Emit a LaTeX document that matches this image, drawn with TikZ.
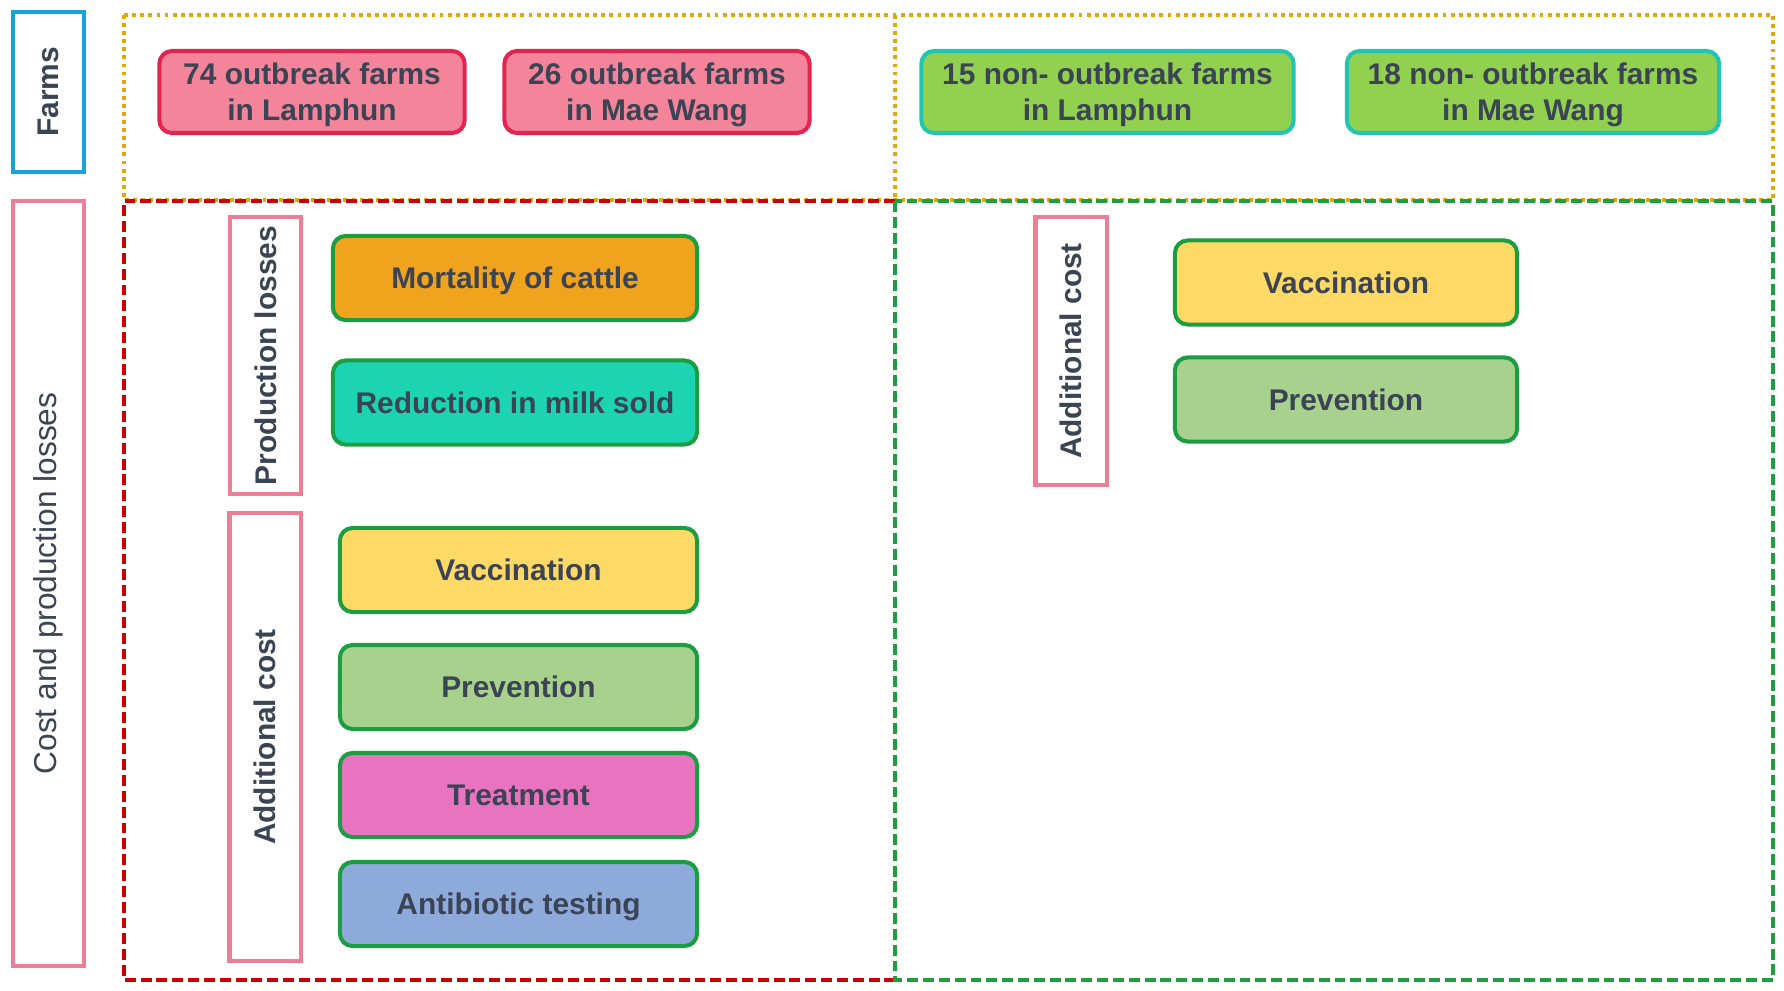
\documentclass[tikz,border=0pt]{standalone}
\usepackage{fontspec}
\setmainfont{Liberation Sans}

\definecolor{txtgray}{HTML}{3A4454}
\definecolor{frmblue}{HTML}{18A2DC}
\definecolor{lblpink}{HTML}{EE7E96}
\definecolor{obborder}{HTML}{E3244F}
\definecolor{obfill}{HTML}{F4849A}
\definecolor{nobborder}{HTML}{22C4B2}
\definecolor{nobfill}{HTML}{92D050}
\definecolor{itemgreen}{HTML}{1A9E41}
\definecolor{mortfill}{HTML}{F0A31C}
\definecolor{milkfill}{HTML}{1CD3B2}
\definecolor{vaccfill}{HTML}{FFD966}
\definecolor{prevfill}{HTML}{A9D18E}
\definecolor{treatfill}{HTML}{E874BF}
\definecolor{abfill}{HTML}{8EAADB}
\definecolor{dotyellow}{HTML}{E6A800}
\definecolor{dashred}{HTML}{CC0000}
\definecolor{dashgreen}{HTML}{1E9E3E}

\tikzset{
  box/.style={draw, rounded corners=3.6pt, line width=1.15pt, text=txtgray,
    font=\fontsize{8.5}{10.3}\selectfont\bfseries, align=center, inner sep=0pt,
    text depth=0pt},
  farmbox/.style={box, minimum height=0.82cm},
  outbreak/.style={farmbox, draw=obborder, fill=obfill, minimum width=3.05cm},
  nonoutbreak/.style={farmbox, draw=nobborder, fill=nobfill, minimum width=3.72cm},
  item/.style={box, draw=itemgreen, minimum height=0.84cm},
  sidelabel/.style={draw=lblpink, line width=1.15pt, rotate=90, text=txtgray,
    font=\fontsize{8.5}{9.7}\selectfont\bfseries, inner sep=0pt, minimum height=0.71cm},
  dotzone/.style={line width=1.1pt, dotyellow, dash pattern=on 1.1pt off 1.2pt},
  dashzone/.style={line width=1.15pt, dash pattern=on 3.1pt off 1.4pt}
}

\begin{document}
\begin{tikzpicture}[x=0.01cm, y=-0.01cm]
\useasboundingbox (0,0) rectangle (1784,991);

% zones
\draw [dotzone] (124,15) rectangle (1773,200);
\draw [dotzone] (895,15) -- (895,200);
\draw [dashzone, dashred] (895,201) -- (124,201) -- (124,980) -- (895,980);
\draw [dashzone, dashgreen] (895,201) rectangle (1773,980);

% row labels
\node [sidelabel, draw=frmblue, minimum width=1.60cm] (farms) at (48.5,92) {Farms};
\node [sidelabel, minimum width=7.65cm, font=\fontsize{9}{10}\selectfont] (costlab) at (48.5,583.5) {Cost and production losses};

% farms
\node [outbreak] (obLam) at (312,92) {74 outbreak farms\\in Lamphun};
\node [outbreak] (obMae) at (657,92) {26 outbreak farms\\in Mae Wang};
\node [nonoutbreak] (nobLam) at (1107.5,92) {15 non- outbreak farms\\in Lamphun};
\node [nonoutbreak] (nobMae) at (1533,92) {18 non- outbreak farms\\in Mae Wang};

% outbreak farms
\node [sidelabel, minimum width=2.77cm] (prodlos) at (265.5,355.5) {Production losses};
\node [sidelabel, minimum width=4.48cm] (addcostL) at (265,737) {Additional cost};

\node [item, fill=mortfill, minimum width=3.64cm] (mort) at (515,278) {Mortality of cattle};
\node [item, fill=milkfill, minimum width=3.64cm] (milk) at (515,402.5) {Reduction in milk sold};

\node [item, fill=vaccfill, minimum width=3.57cm] (vaccL) at (518.5,570) {Vaccination};
\node [item, fill=prevfill, minimum width=3.57cm] (prevL) at (518.5,687) {Prevention};
\node [item, fill=treatfill, minimum width=3.57cm] (treat) at (518.5,795) {Treatment};
\node [item, fill=abfill, minimum width=3.57cm] (abtest) at (518.5,904) {Antibiotic testing};

% non-outbreak farms
\node [sidelabel, minimum width=2.68cm] (addcostR) at (1071,351) {Additional cost};

\node [item, fill=vaccfill, minimum width=3.42cm] (vaccR) at (1346,282.5) {Vaccination};
\node [item, fill=prevfill, minimum width=3.42cm] (prevR) at (1346,399.5) {Prevention};

\end{tikzpicture}
\end{document}
